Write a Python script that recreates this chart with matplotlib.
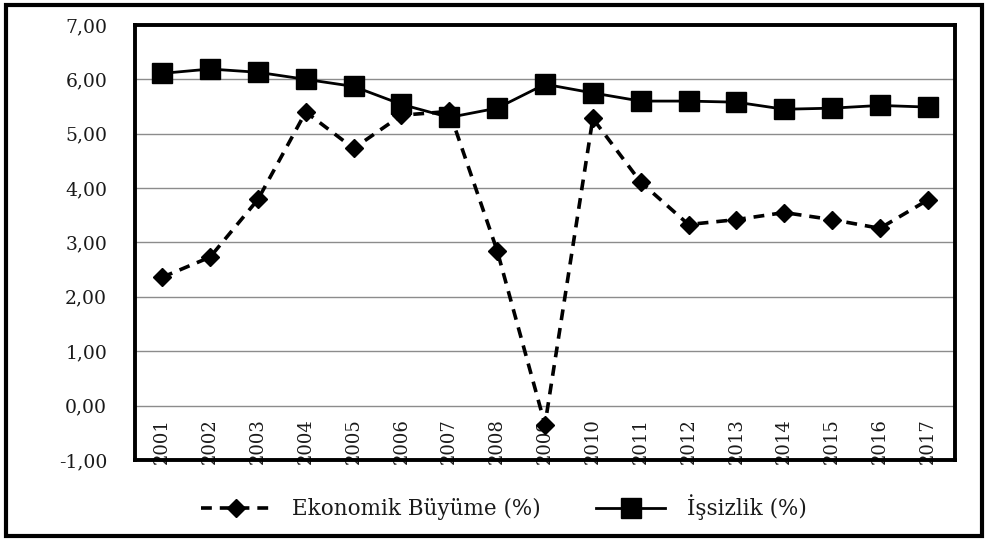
import matplotlib
matplotlib.use("Agg")
import matplotlib.pyplot as plt
from matplotlib.patches import Rectangle

years = ["2001", "2002", "2003", "2004", "2005", "2006", "2007", "2008", "2009",
         "2010", "2011", "2012", "2013", "2014", "2015", "2016", "2017"]
growth = [2.36, 2.73, 3.79, 5.40, 4.73, 5.34, 5.41, 2.85, -0.35,
          5.28, 4.11, 3.33, 3.42, 3.55, 3.42, 3.26, 3.78]
unemp = [6.11, 6.19, 6.13, 6.00, 5.87, 5.54, 5.30, 5.47, 5.91,
         5.75, 5.60, 5.60, 5.58, 5.45, 5.47, 5.52, 5.49]
yticks = [-1, 0, 1, 2, 3, 4, 5, 6, 7]
label_growth = "Ekonomik Büyüme (%)"
label_unemp = "İşsizlik (%)"

plt.rcParams['font.family'] = ['DejaVu Serif']
txt = '#1a1a1a'

fig = plt.figure(figsize=(9.88, 5.43), dpi=100)
ax = fig.add_axes([0.1366, 0.153, 0.830, 0.801])

x = list(range(len(years)))
ax.plot(x, growth, linestyle=(0, (3, 2.2)), color='black', lw=2.6,
        marker='D', markersize=9, label=label_growth, zorder=3)
ax.plot(x, unemp, linestyle='-', color='black', lw=2.0,
        marker='s', markersize=14, label=label_unemp, zorder=3)

ax.set_ylim(-1, 7)
ax.set_xlim(-0.57, len(years) - 0.43)
ax.set_yticks(yticks)
ax.set_yticklabels([f"{v:.2f}".replace('.', ',') for v in yticks],
                   fontsize=13.5, color=txt)
ax.set_xticks([])
ax.tick_params(axis='y', length=0, pad=20)
ax.grid(axis='y', color='#8c8c8c', lw=1.0)
ax.set_axisbelow(True)
for s in ax.spines.values():
    s.set_linewidth(2.8)
    s.set_color('black')

for i, yr in enumerate(years):
    ax.text(i, -1.07, yr, rotation=90, ha='center', va='bottom', fontsize=13,
            color=txt, zorder=1, clip_on=False)

leg = fig.legend(loc='center', bbox_to_anchor=(0.51, 0.066), ncol=2, frameon=False,
                 fontsize=15.5, handlelength=3.2, columnspacing=2.6, handletextpad=1.0)
for t in leg.get_texts():
    t.set_color(txt)

fig.patches.append(Rectangle((0.006, 0.013), 0.988, 0.978, transform=fig.transFigure,
                             fill=False, edgecolor='black', lw=3))

fig.savefig("out.png", dpi=100)
